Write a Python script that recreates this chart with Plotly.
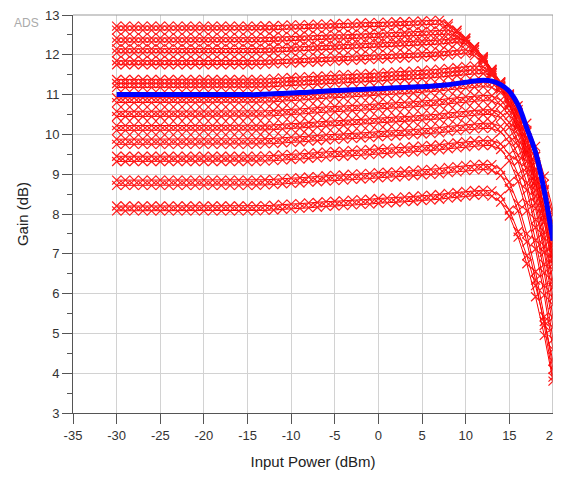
import plotly.graph_objects as go

# Input power sweep (dBm), 1 dB steps
input_power = list(range(-30, 21))

red_01 = [12.72, 12.72, 12.72, 12.72, 12.72, 12.72, 12.72, 12.72, 12.72, 12.72, 12.72, 12.72, 12.72, 12.72, 12.72, 12.72,
          12.72, 12.73, 12.73, 12.74, 12.75, 12.75, 12.76, 12.77, 12.77, 12.78, 12.79, 12.79, 12.80, 12.81, 12.81, 12.82,
          12.83, 12.83, 12.84, 12.85, 12.86, 12.87,
          12.78, 12.62, 12.42, 12.20, 11.94, 11.64, 11.32, 10.96, 10.55, 10.05, 9.45, 8.75, 7.98]
red_02 = [12.62, 12.62, 12.62, 12.62, 12.62, 12.62, 12.62, 12.62, 12.62, 12.62, 12.62, 12.62, 12.62, 12.62, 12.62, 12.62,
          12.62, 12.63, 12.63, 12.64, 12.65, 12.65, 12.66, 12.67, 12.67, 12.68, 12.69, 12.69, 12.70, 12.71, 12.71, 12.72,
          12.73, 12.73, 12.74, 12.75, 12.76, 12.77,
          12.72, 12.60, 12.42, 12.20, 11.93, 11.62, 11.28, 10.90, 10.45, 9.92, 9.30, 8.58, 7.78]
red_03 = [12.42, 12.42, 12.42, 12.42, 12.42, 12.42, 12.42, 12.42, 12.42, 12.42, 12.42, 12.42, 12.42, 12.42, 12.42, 12.42,
          12.42, 12.43, 12.44, 12.45, 12.45, 12.46, 12.47, 12.48, 12.49, 12.50, 12.50, 12.51, 12.52, 12.53, 12.54, 12.55,
          12.55, 12.56, 12.57, 12.58, 12.59, 12.60, 12.62,
          12.55, 12.40, 12.18, 11.90, 11.56, 11.20, 10.80, 10.32, 9.78, 9.12, 8.35, 7.50]
red_04 = [12.32, 12.32, 12.32, 12.32, 12.32, 12.32, 12.32, 12.32, 12.32, 12.32, 12.32, 12.32, 12.32, 12.32, 12.32, 12.32,
          12.32, 12.33, 12.34, 12.35, 12.35, 12.36, 12.37, 12.38, 12.39, 12.40, 12.40, 12.41, 12.42, 12.43, 12.44, 12.45,
          12.45, 12.46, 12.47, 12.48, 12.49, 12.50, 12.52,
          12.47, 12.34, 12.14, 11.86, 11.52, 11.14, 10.72, 10.22, 9.64, 8.96, 8.18, 7.30]
red_05 = [12.15, 12.15, 12.15, 12.15, 12.15, 12.15, 12.15, 12.15, 12.15, 12.15, 12.15, 12.15, 12.15, 12.15, 12.15, 12.15,
          12.15, 12.16, 12.17, 12.18, 12.19, 12.20, 12.21, 12.22, 12.23, 12.24, 12.25, 12.26, 12.27, 12.28, 12.29, 12.30,
          12.31, 12.32, 12.33, 12.34, 12.35, 12.37, 12.39, 12.41,
          12.36, 12.20, 11.95, 11.62, 11.22, 10.78, 10.26, 9.66, 8.96, 8.15, 7.20]
red_06 = [12.05, 12.05, 12.05, 12.05, 12.05, 12.05, 12.05, 12.05, 12.05, 12.05, 12.05, 12.05, 12.05, 12.05, 12.05, 12.05,
          12.05, 12.06, 12.07, 12.08, 12.09, 12.10, 12.11, 12.12, 12.13, 12.14, 12.15, 12.16, 12.17, 12.18, 12.19, 12.20,
          12.21, 12.22, 12.23, 12.24, 12.25, 12.27, 12.29, 12.31,
          12.27, 12.12, 11.88, 11.56, 11.18, 10.74, 10.20, 9.56, 8.82, 7.98, 7.00]
red_07 = [11.85, 11.85, 11.85, 11.85, 11.85, 11.85, 11.85, 11.85, 11.85, 11.85, 11.85, 11.85, 11.85, 11.85, 11.85, 11.85,
          11.85, 11.86, 11.87, 11.88, 11.89, 11.90, 11.91, 11.92, 11.93, 11.94, 11.95, 11.96, 11.97, 11.98, 11.99, 12.00,
          12.01, 12.02, 12.03, 12.04, 12.05, 12.07, 12.09, 12.11, 12.13,
          12.06, 11.88, 11.60, 11.24, 10.80, 10.26, 9.60, 8.82, 7.92, 6.90]
red_08 = [11.75, 11.75, 11.75, 11.75, 11.75, 11.75, 11.75, 11.75, 11.75, 11.75, 11.75, 11.75, 11.75, 11.75, 11.75, 11.75,
          11.75, 11.76, 11.77, 11.78, 11.79, 11.80, 11.81, 11.82, 11.83, 11.84, 11.85, 11.86, 11.87, 11.88, 11.89, 11.90,
          11.91, 11.92, 11.93, 11.94, 11.95, 11.97, 11.99, 12.01, 12.03,
          11.98, 11.82, 11.55, 11.20, 10.76, 10.20, 9.52, 8.72, 7.80, 6.75]
red_09 = [11.38, 11.38, 11.38, 11.38, 11.38, 11.38, 11.38, 11.38, 11.38, 11.38, 11.38, 11.38, 11.38, 11.38, 11.38, 11.38,
          11.38, 11.39, 11.40, 11.42, 11.43, 11.44, 11.45, 11.46, 11.47, 11.49, 11.50, 11.51, 11.52, 11.53, 11.54, 11.56,
          11.57, 11.58, 11.59, 11.60, 11.62, 11.64, 11.66, 11.68, 11.71, 11.72,
          11.70, 11.56, 11.30, 11.02, 10.72, 10.28, 9.70, 8.95, 8.10]
red_10 = [11.28, 11.28, 11.28, 11.28, 11.28, 11.28, 11.28, 11.28, 11.28, 11.28, 11.28, 11.28, 11.28, 11.28, 11.28, 11.28,
          11.28, 11.29, 11.30, 11.32, 11.33, 11.34, 11.35, 11.36, 11.37, 11.39, 11.40, 11.41, 11.42, 11.43, 11.44, 11.46,
          11.47, 11.48, 11.49, 11.50, 11.52, 11.54, 11.56, 11.58, 11.61, 11.62,
          11.62, 11.52, 11.32, 11.00, 10.62, 10.10, 9.45, 8.62, 7.60]
red_11 = [11.18, 11.18, 11.18, 11.18, 11.18, 11.18, 11.18, 11.18, 11.18, 11.18, 11.18, 11.18, 11.18, 11.18, 11.18, 11.18,
          11.18, 11.19, 11.20, 11.22, 11.23, 11.24, 11.25, 11.26, 11.27, 11.29, 11.30, 11.31, 11.32, 11.33, 11.34, 11.36,
          11.37, 11.38, 11.39, 11.40, 11.42, 11.44, 11.46, 11.48, 11.51, 11.52, 11.53,
          11.48, 11.30, 10.98, 10.50, 9.88, 9.10, 8.15, 7.05]
red_12 = [10.92, 10.92, 10.92, 10.92, 10.92, 10.92, 10.92, 10.92, 10.92, 10.92, 10.92, 10.92, 10.92, 10.92, 10.92, 10.92,
          10.92, 10.93, 10.94, 10.96, 10.97, 10.98, 11.00, 11.01, 11.03, 11.04, 11.05, 11.07, 11.08, 11.09, 11.11, 11.12,
          11.13, 11.15, 11.16, 11.18, 11.19, 11.21, 11.24, 11.26, 11.29, 11.31, 11.32,
          11.30, 11.18, 10.90, 10.42, 9.78, 8.98, 8.00, 6.85]
red_13 = [10.80, 10.80, 10.80, 10.80, 10.80, 10.80, 10.80, 10.80, 10.80, 10.80, 10.80, 10.80, 10.80, 10.80, 10.80, 10.80,
          10.80, 10.81, 10.82, 10.84, 10.85, 10.86, 10.88, 10.89, 10.91, 10.92, 10.93, 10.95, 10.96, 10.97, 10.99, 11.00,
          11.01, 11.03, 11.04, 11.06, 11.07, 11.09, 11.12, 11.14, 11.17, 11.19, 11.20,
          11.18, 11.06, 10.78, 10.30, 9.64, 8.80, 7.80, 6.60]
red_14 = [10.58, 10.58, 10.58, 10.58, 10.58, 10.58, 10.58, 10.58, 10.58, 10.58, 10.58, 10.58, 10.58, 10.58, 10.58, 10.58,
          10.58, 10.59, 10.60, 10.62, 10.63, 10.64, 10.66, 10.67, 10.69, 10.70, 10.71, 10.73, 10.74, 10.75, 10.77, 10.78,
          10.79, 10.81, 10.82, 10.84, 10.85, 10.87, 10.90, 10.92, 10.95, 10.97, 10.98,
          10.97, 10.86, 10.60, 10.12, 9.45, 8.60, 7.55, 6.30]
red_15 = [10.45, 10.45, 10.45, 10.45, 10.45, 10.45, 10.45, 10.45, 10.45, 10.45, 10.45, 10.45, 10.45, 10.45, 10.45, 10.45,
          10.45, 10.46, 10.47, 10.49, 10.50, 10.51, 10.53, 10.54, 10.56, 10.57, 10.58, 10.60, 10.61, 10.62, 10.64, 10.65,
          10.66, 10.68, 10.69, 10.71, 10.72, 10.74, 10.77, 10.79, 10.82, 10.84, 10.85,
          10.84, 10.74, 10.48, 10.00, 9.32, 8.45, 7.40, 6.15]
red_16 = [10.22, 10.22, 10.22, 10.22, 10.22, 10.22, 10.22, 10.22, 10.22, 10.22, 10.22, 10.22, 10.22, 10.22, 10.22, 10.22,
          10.22, 10.23, 10.24, 10.26, 10.27, 10.28, 10.30, 10.31, 10.33, 10.34, 10.35, 10.37, 10.38, 10.39, 10.41, 10.42,
          10.43, 10.45, 10.46, 10.48, 10.49, 10.51, 10.54, 10.56, 10.59, 10.61, 10.62,
          10.62, 10.54, 10.30, 9.84, 9.16, 8.28, 7.20, 5.90]
red_17 = [10.10, 10.10, 10.10, 10.10, 10.10, 10.10, 10.10, 10.10, 10.10, 10.10, 10.10, 10.10, 10.10, 10.10, 10.10, 10.10,
          10.10, 10.11, 10.12, 10.14, 10.15, 10.16, 10.18, 10.19, 10.21, 10.22, 10.23, 10.25, 10.26, 10.27, 10.29, 10.30,
          10.31, 10.33, 10.34, 10.36, 10.37, 10.39, 10.42, 10.44, 10.47, 10.49, 10.50,
          10.50, 10.42, 10.18, 9.72, 9.04, 8.14, 7.04, 5.72]
red_18 = [9.88, 9.88, 9.88, 9.88, 9.88, 9.88, 9.88, 9.88, 9.88, 9.88, 9.88, 9.88, 9.88, 9.88, 9.88, 9.88,
          9.88, 9.89, 9.90, 9.92, 9.93, 9.94, 9.96, 9.97, 9.99, 10.00, 10.01, 10.03, 10.04, 10.05, 10.07, 10.08,
          10.09, 10.11, 10.12, 10.14, 10.15, 10.17, 10.20, 10.22, 10.25, 10.27, 10.28,
          10.28, 10.20, 9.95, 9.48, 8.78, 7.86, 6.74, 5.40]
red_19 = [9.75, 9.75, 9.75, 9.75, 9.75, 9.75, 9.75, 9.75, 9.75, 9.75, 9.75, 9.75, 9.75, 9.75, 9.75, 9.75,
          9.75, 9.76, 9.77, 9.79, 9.80, 9.81, 9.83, 9.84, 9.86, 9.87, 9.88, 9.90, 9.91, 9.92, 9.94, 9.95,
          9.96, 9.98, 9.99, 10.01, 10.02, 10.04, 10.07, 10.09, 10.12, 10.14, 10.15,
          10.15, 10.06, 9.80, 9.32, 8.60, 7.66, 6.52, 5.15]
red_20 = [9.45, 9.45, 9.45, 9.45, 9.45, 9.45, 9.45, 9.45, 9.45, 9.45, 9.45, 9.45, 9.45, 9.45, 9.45, 9.45,
          9.45, 9.46, 9.47, 9.49, 9.50, 9.51, 9.53, 9.54, 9.56, 9.57, 9.58, 9.60, 9.61, 9.62, 9.64, 9.65,
          9.66, 9.68, 9.69, 9.71, 9.72, 9.74, 9.77, 9.79, 9.82, 9.84, 9.85,
          9.85, 9.76, 9.50, 9.00, 8.28, 7.34, 6.20, 4.85]
red_21 = [9.32, 9.32, 9.32, 9.32, 9.32, 9.32, 9.32, 9.32, 9.32, 9.32, 9.32, 9.32, 9.32, 9.32, 9.32, 9.32,
          9.32, 9.33, 9.34, 9.36, 9.37, 9.38, 9.40, 9.41, 9.43, 9.44, 9.45, 9.47, 9.48, 9.49, 9.51, 9.52,
          9.53, 9.55, 9.56, 9.58, 9.59, 9.61, 9.64, 9.66, 9.69, 9.71, 9.72,
          9.72, 9.62, 9.34, 8.82, 8.08, 7.12, 5.96, 4.60]
red_22 = [8.85, 8.85, 8.85, 8.85, 8.85, 8.85, 8.85, 8.85, 8.85, 8.85, 8.85, 8.85, 8.85, 8.85, 8.85, 8.85,
          8.85, 8.86, 8.87, 8.89, 8.90, 8.91, 8.93, 8.94, 8.96, 8.97, 8.98, 9.00, 9.01, 9.02, 9.04, 9.05,
          9.06, 9.08, 9.09, 9.11, 9.12, 9.14, 9.17, 9.19, 9.22, 9.24, 9.25,
          9.24, 9.12, 8.80, 8.26, 7.50, 6.55, 5.42, 4.10]
red_23 = [8.72, 8.72, 8.72, 8.72, 8.72, 8.72, 8.72, 8.72, 8.72, 8.72, 8.72, 8.72, 8.72, 8.72, 8.72, 8.72,
          8.72, 8.73, 8.74, 8.76, 8.77, 8.78, 8.80, 8.81, 8.83, 8.84, 8.85, 8.87, 8.88, 8.89, 8.91, 8.92,
          8.93, 8.95, 8.96, 8.98, 8.99, 9.01, 9.04, 9.06, 9.09, 9.11, 9.12,
          9.10, 8.97, 8.64, 8.08, 7.30, 6.34, 5.20, 3.90]
red_24 = [8.20, 8.20, 8.20, 8.20, 8.20, 8.20, 8.20, 8.20, 8.20, 8.20, 8.20, 8.20, 8.20, 8.20, 8.20, 8.20,
          8.20, 8.21, 8.22, 8.24, 8.25, 8.26, 8.28, 8.29, 8.31, 8.32, 8.33, 8.35, 8.36, 8.37, 8.39, 8.40,
          8.41, 8.43, 8.44, 8.46, 8.47, 8.49, 8.52, 8.54, 8.57, 8.59, 8.60,
          8.58, 8.45, 8.10, 7.56, 6.95, 6.20, 5.30, 4.30]
red_25 = [8.08, 8.08, 8.08, 8.08, 8.08, 8.08, 8.08, 8.08, 8.08, 8.08, 8.08, 8.08, 8.08, 8.08, 8.08, 8.08,
          8.08, 8.09, 8.10, 8.12, 8.13, 8.14, 8.16, 8.17, 8.19, 8.20, 8.21, 8.23, 8.24, 8.25, 8.27, 8.28,
          8.29, 8.31, 8.32, 8.34, 8.35, 8.37, 8.40, 8.42, 8.45, 8.47, 8.48,
          8.45, 8.30, 7.95, 7.42, 6.75, 5.92, 4.95, 3.80]

nominal_gain = [11.00, 11.00, 11.00, 11.00, 11.00, 11.00, 11.00, 11.00, 11.00, 11.00, 11.00, 11.00, 11.00, 11.00, 11.00, 11.00,
                11.00, 11.01, 11.02, 11.03, 11.04,
                11.05, 11.06, 11.08, 11.09, 11.10, 11.11, 11.12, 11.13, 11.14, 11.15,
                11.16, 11.17, 11.18, 11.19, 11.20, 11.21, 11.23, 11.25, 11.28, 11.31,
                11.34, 11.36, 11.34, 11.25, 11.08, 10.74, 10.16, 9.55, 8.58, 7.33]

red_curves = [red_01, red_02, red_03, red_04, red_05, red_06, red_07, red_08, red_09, red_10,
              red_11, red_12, red_13, red_14, red_15, red_16, red_17, red_18, red_19, red_20,
              red_21, red_22, red_23, red_24, red_25]

x_ticks = [-35, -30, -25, -20, -15, -10, -5, 0, 5, 10, 15, 20]
y_ticks = [3, 4, 5, 6, 7, 8, 9, 10, 11, 12, 13]

for i, c in enumerate(red_curves):
    assert len(c) == len(input_power), (i + 1, len(c))
assert len(nominal_gain) == len(input_power)

fig = go.Figure()
for c in red_curves:
    fig.add_trace(go.Scatter(
        x=input_power, y=c, mode="lines+markers",
        line=dict(color="#ff0000", width=1),
        marker=dict(symbol="x-thin", size=9, line=dict(color="#ff1a1a", width=1.2)),
        showlegend=False, hoverinfo="skip", cliponaxis=False))

fig.add_trace(go.Scatter(
    x=input_power, y=nominal_gain, mode="lines",
    line=dict(color="#0000ff", width=5, shape="spline"),
    showlegend=False, cliponaxis=False))

font_family = "Liberation Sans, Arial, sans-serif"
# the page body adds an 8 px offset, so the figure is sized to fit inside the window
fig.update_layout(
    width=553, height=468,
    margin=dict(l=65, r=8, t=7, b=63),
    paper_bgcolor="white", plot_bgcolor="white",
    font=dict(family=font_family, size=13, color="#333333"),
    xaxis=dict(
        range=[-35, 20], tickvals=x_ticks, ticktext=[str(v) for v in x_ticks],
        showgrid=True, gridcolor="#d2d2d2", gridwidth=1,
        showline=True, linecolor="#555555", linewidth=1,
        ticks="outside", ticklen=10, tickcolor="#555555",
        zeroline=False, automargin=False, ticklabeloverflow="allow",
        title=dict(text="Input Power (dBm)", font=dict(size=15, color="#222222"), standoff=14),
    ),
    yaxis=dict(
        range=[3, 13], tickvals=y_ticks, ticktext=[str(v) for v in y_ticks],
        showgrid=True, gridcolor="#d2d2d2", gridwidth=1,
        showline=True, linecolor="#555555", linewidth=1,
        ticks="outside", ticklen=10, tickcolor="#555555",
        minor=dict(dtick=0.5, ticks="outside", ticklen=5, tickcolor="#555555", showgrid=False),
        zeroline=False, automargin=False, ticklabeloverflow="allow",
        title=dict(text="Gain (dB)", font=dict(size=15, color="#222222"), standoff=12),
    ),
    shapes=[
        dict(type="line", xref="paper", yref="paper", x0=0, x1=1, y0=1, y1=1,
             line=dict(color="#999999", width=1)),
        dict(type="line", xref="paper", yref="paper", x0=1, x1=1, y0=0, y1=1,
             line=dict(color="#999999", width=1)),
    ],
    annotations=[
        dict(text="ADS", xref="paper", yref="paper", x=-0.128, y=0.98,
             xanchor="left", yanchor="middle", showarrow=False,
             font=dict(size=12, color="#aaaaaa", family=font_family)),
    ],
)

fig.write_html("out.html")
